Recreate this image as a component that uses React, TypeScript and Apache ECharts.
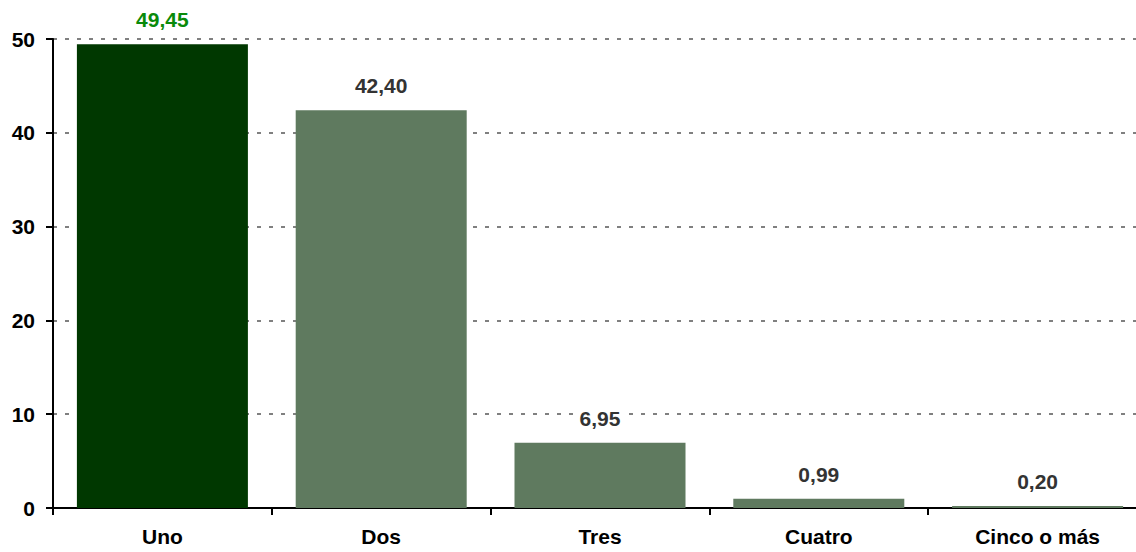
import React, { useEffect, useRef } from "react";
import * as echarts from "echarts";

const categories = ["Uno", "Dos", "Tres", "Cuatro", "Cinco o más"];
const values = [49.45, 42.4, 6.95, 0.99, 0.2];
const barColors = ["#003800", "#5f7a5f", "#5f7a5f", "#5f7a5f", "#5f7a5f"];
const labelColors = ["#0a8a0a", "#333333", "#333333", "#333333", "#333333"];

const FONT = "'Liberation Sans', Arial, sans-serif";

export default function App() {
  const ref = useRef<HTMLDivElement>(null);
  useEffect(() => {
    document.body.style.margin = "0";
    const chart = echarts.init(ref.current!, undefined, { renderer: "svg" });
    chart.setOption({
      animation: false,
      backgroundColor: "#ffffff",
      grid: { left: 53, top: 39, width: 1094, height: 469, containLabel: false },
      xAxis: {
        type: "category",
        data: categories,
        axisLine: { show: true, lineStyle: { color: "#000", width: 2 } },
        axisTick: { show: true, length: 7, alignWithLabel: false, lineStyle: { color: "#000", width: 2 } },
        axisLabel: {
          margin: 18,
          color: "#000",
          fontSize: 21,
          fontWeight: "bold",
          fontFamily: FONT,
          interval: 0,
        },
        splitLine: { show: false },
      },
      yAxis: {
        type: "value",
        min: 0,
        max: 50,
        interval: 10,
        axisLine: { show: true, lineStyle: { color: "#000", width: 2 } },
        axisTick: { show: true, length: 7, lineStyle: { color: "#000", width: 2 } },
        axisLabel: {
          margin: 18,
          color: "#000",
          fontSize: 21,
          fontWeight: "bold",
          fontFamily: FONT,
        },
        splitLine: {
          show: true,
          lineStyle: { color: "#808080", width: 2, type: [4, 8] },
        },
      },
      series: [
        {
          type: "bar",
          barWidth: 171,
          data: values.map((v, i) => ({
            value: v,
            itemStyle: { color: barColors[i] },
            label: { color: labelColors[i] },
          })),
          label: {
            show: true,
            position: "top",
            distance: 14,
            fontSize: 21,
            fontWeight: "bold",
            fontFamily: FONT,
            backgroundColor: "#ffffff",
            padding: [0, 4],
            formatter: (p: any) => p.value.toFixed(2).replace(".", ","),
          },
        },
      ],
    });
    return () => chart.dispose();
  }, []);
  return (
    <div style={{ position: "absolute", left: 0, top: 0, width: 1136, height: 552, overflow: "hidden" }}>
      <div ref={ref} style={{ width: 1160, height: 552 }} />
    </div>
  );
}
